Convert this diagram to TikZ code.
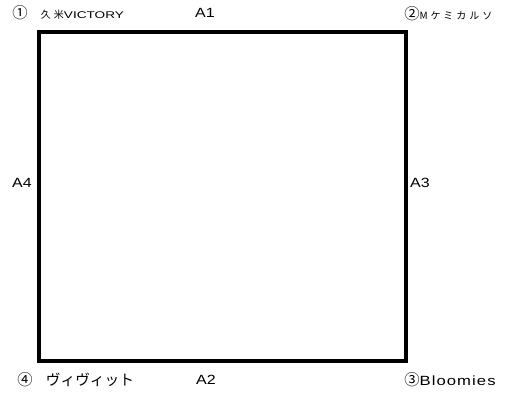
\documentclass[tikz,border=0pt]{standalone}
\usepackage{fontspec}
\setmainfont[FakeStretch=1.2]{Liberation Sans}
\newfontfamily\jp{Noto Sans CJK JP}
\newfontfamily\jpsmall[LetterSpace=30]{Noto Sans CJK JP}
\newfontfamily\half[FakeStretch=1.4]{Liberation Sans}
\newfontfamily\wide[FakeStretch=1.25,LetterSpace=8]{Liberation Sans}
\newcommand\circnum[1]{{\jp\fontsize{11.5}{12}\selectfont #1}}
\usetikzlibrary{positioning}

\begin{document}
\begin{tikzpicture}[
  x=0.75pt, y=-0.75pt,
  plot/.style={line width=3pt, line join=miter},
  side/.style={inner sep=0pt, font=\fontsize{10}{12}\selectfont},
  corner/.style={inner sep=0pt, anchor=west, font=\fontsize{10}{12}\selectfont}
]
\useasboundingbox (0,0) rectangle (514,394);
\coordinate (nw) at (39,32);
\coordinate (se) at (405.5,361);
\draw[plot] (nw) rectangle (se);
% corner names
\node[corner] (c1) at (12,13) {\circnum{①}\hspace{10pt}{\jpsmall\fontsize{7.5}{8}\selectfont 久米}{\half\fontsize{7.3}{8}\selectfont VICTORY}};
\node[corner] (c2) at (404,14) {\circnum{②}{\jpsmall\fontsize{7.5}{8}\selectfont Mケミカルソ}};
\node[corner] (c3) at (404,380) {\circnum{③}{\wide Bloomies}};
\node[corner] (c4) at (17,380) {\circnum{④}\hspace{10pt}{\jp\fontsize{11}{13}\selectfont ヴィヴィット}};
% sides
\node[side] (a1) at (205,13) {A1};
\node[side] (a2) at (206,380) {A2};
\node[side] (a3) at (420,183) {A3};
\node[side] (a4) at (22,183) {A4};
\end{tikzpicture}
\end{document}
